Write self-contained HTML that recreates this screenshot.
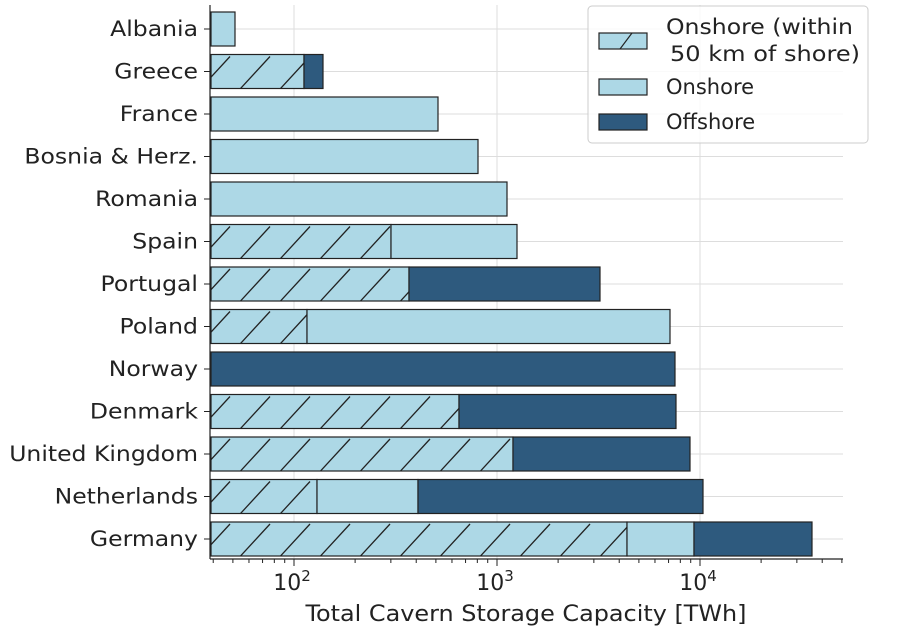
<!DOCTYPE html>
<html><head><style>body{margin:0;background:#fff}svg{display:block}text{font-family:"DejaVu Sans","Liberation Sans",sans-serif;fill:#222}</style></head>
<body>
<svg width="904" height="643" viewBox="0 0 904 643" xmlns="http://www.w3.org/2000/svg">
<defs>
<pattern id="h" patternUnits="userSpaceOnUse" width="40" height="42.5" patternTransform="translate(0,12)">
<rect width="40" height="42.5" fill="#add8e6"/>
<line x1="-5" y1="40" x2="30" y2="2" stroke="#222" stroke-width="1.3"/>
<line x1="35" y1="40" x2="70" y2="2" stroke="#222" stroke-width="1.3"/>
</pattern>
</defs>
<g stroke="#ddd" stroke-width="1">
<line x1="294" y1="5" x2="294" y2="559"/><line x1="497" y1="5" x2="497" y2="559"/><line x1="700" y1="5" x2="700" y2="559"/>
</g>
<g id="grid" stroke="#ddd"></g>
<g id="bars"></g>
<g stroke="#222" stroke-width="1.2">
<line x1="210" y1="5" x2="210" y2="559"/><line x1="210" y1="559" x2="843" y2="559"/>
</g>
<g id="ticks" stroke="#222"></g>
<g font-size="21" text-anchor="end" id="ylab"></g>
<g font-size="22" text-anchor="middle">
<text x="292" y="590">10<tspan font-size="15" dy="-9">2</tspan></text>
<text x="495" y="590">10<tspan font-size="15" dy="-9">3</tspan></text>
<text x="698" y="590">10<tspan font-size="15" dy="-9">4</tspan></text>
<text x="526" y="621" textLength="441" lengthAdjust="spacingAndGlyphs">Total Cavern Storage Capacity [TWh]</text>
</g>
<rect x="588" y="6" width="280" height="137" rx="4" fill="#fff" fill-opacity="0.85" stroke="#ccc"/>
<rect x="599" y="33" width="48" height="16" fill="#add8e6" stroke="#222" stroke-width="1.2"/>
<line x1="620" y1="49" x2="632" y2="33" stroke="#222" stroke-width="1.2"/>
<rect x="599" y="79" width="48" height="16" fill="#add8e6" stroke="#222" stroke-width="1.2"/>
<rect x="599" y="114" width="48" height="16" fill="#2e5a7e" stroke="#222" stroke-width="1.2"/>
<g font-size="21">
<text x="666" y="34" textLength="187" lengthAdjust="spacingAndGlyphs">Onshore (within</text>
<text x="670" y="61" textLength="190" lengthAdjust="spacingAndGlyphs">50 km of shore)</text>
<text x="666" y="94">Onshore</text>
<text x="666" y="129">Offshore</text>
</g>
<script>
var L='#add8e6',D='#2e5a7e';
var rows=[["Albania",[[235,L]]],["Greece",[[304,'h'],[323,D]]],["France",[[438,L]]],["Bosnia & Herz.",[[478,L]]],["Romania",[[507,L]]],["Spain",[[391,'h'],[517,L]]],["Portugal",[[409,'h'],[600,D]]],["Poland",[[307,'h'],[670,L]]],["Norway",[[675,D]]],["Denmark",[[459,'h'],[676,D]]],["United Kingdom",[[513,'h'],[690,D]]],["Netherlands",[[317,'h'],[418,L],[703,D]]],["Germany",[[627,'h'],[694,L],[812,D]]]];
var ns='http://www.w3.org/2000/svg',b=document.getElementById('bars'),g=document.getElementById('grid'),yl=document.getElementById('ylab'),tk=document.getElementById('ticks');
function el(p,t,a){var e=document.createElementNS(ns,t);for(var k in a)e.setAttribute(k,a[k]);p.appendChild(e);return e;}
rows.forEach(function(r,i){var c=29+i*42.5;el(g,'line',{x1:210,x2:843,y1:c,y2:c});
var x=211;r[1].forEach(function(s){el(b,'rect',{x:x,y:c-17,width:s[0]-x,height:34,fill:s[1]=='h'?'url(#h)':s[1],stroke:'#222','stroke-width':1.2});x=s[0];});
el(tk,'line',{x1:204,x2:210,y1:c,y2:c});var t=el(yl,'text',{x:198,y:c+7});t.textContent=r[0];
var w=t.getComputedTextLength();t.setAttribute('textLength',w*1.12);t.setAttribute('lengthAdjust','spacingAndGlyphs');});
for(var d=1;d<=4;d++)for(var m=1;m<10;m++){var x=294+203*(d-2+Math.log10(m));if(x<210||x>843)continue;el(tk,'line',{x1:x,x2:x,y1:559,y2:559+(m==1?7:4)});}
</script>
</svg>
</body></html>
